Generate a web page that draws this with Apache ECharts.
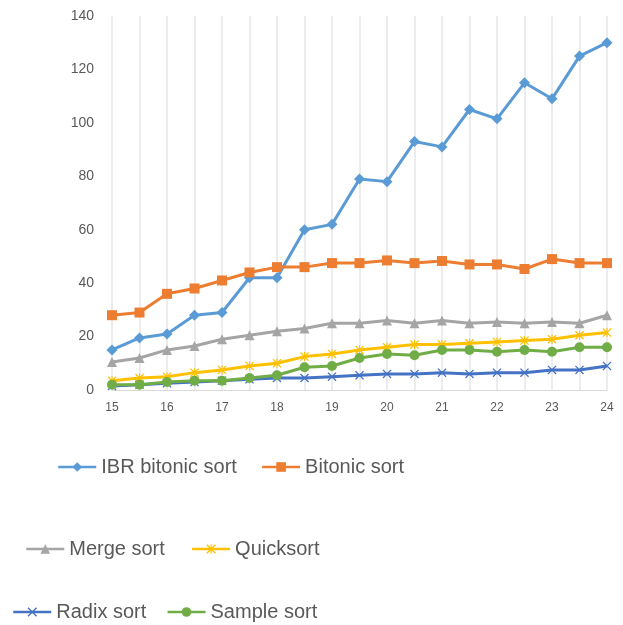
<!DOCTYPE html>
<html>
<head>
<meta charset="utf-8">
<script src="https://cdn.jsdelivr.net/npm/echarts@6/dist/echarts.min.js"></script>
<style>
  html, body { margin: 0; padding: 0; background: #fff; }
  #chart { width: 623px; height: 625px; }
</style>
</head>
<body>
<div id="chart"></div>
<script>
// x positions: 15 .. 24 in half steps
const categories = ["15", "15.5", "16", "16.5", "17", "17.5", "18", "18.5", "19", "19.5",
  "20", "20.5", "21", "21.5", "22", "22.5", "23", "23.5", "24"];

const ibrBitonic = [15, 19.5, 21, 28, 29, 42, 42, 60, 62, 79, 78, 93, 91, 105, 101.5, 115, 109, 125, 130];
const bitonic = [28, 29, 36, 38, 41, 44, 46, 46, 47.5, 47.5, 48.5, 47.5, 48.3, 47, 47, 45.3, 49, 47.5, 47.5];
const mergeSort = [10.5, 12, 15, 16.5, 19, 20.5, 22, 23, 25, 25, 26, 25, 26, 25, 25.5, 25, 25.5, 25, 28];
const quickSort = [3.5, 4.5, 5, 6.5, 7.5, 9, 10, 12.5, 13.5, 15, 16, 17, 17, 17.5, 18, 18.5, 19, 20.5, 21.5];
const radixSort = [1.5, 2, 2.5, 3, 3.5, 4, 4.5, 4.5, 5, 5.5, 6, 6, 6.5, 6, 6.5, 6.5, 7.5, 7.5, 9];
const sampleSort = [2, 2, 3, 3.5, 3.5, 4.5, 5.5, 8.5, 9, 12, 13.5, 13, 15, 15, 14.3, 15, 14.3, 16, 16];

const yTicks = [0, 20, 40, 60, 80, 100, 120, 140];

const X_PATH = "path://M0,1 L1,0 L5,4 L9,0 L10,1 L6,5 L10,9 L9,10 L5,6 L1,10 L0,9 L4,5 Z";
const STAR_PATH = "path://M0,1 L1,0 L5,4 L9,0 L10,1 L6,5 L10,9 L9,10 L5,6 L1,10 L0,9 L4,5 Z M4.4,0 L5.6,0 L5.6,10 L4.4,10 Z";

const chart = echarts.init(document.getElementById("chart"), null, { renderer: "canvas" });

function mkSeries(name, data, color, symbol, size) {
  return {
    name: name,
    type: "line",
    data: data,
    symbol: symbol,
    symbolSize: size,
    showSymbol: true,
    lineStyle: { color: color, width: 3 },
    itemStyle: { color: color },
    emphasis: { disabled: true },
    z: 3
  };
}

const legendText = { color: "#595959", fontSize: 20, fontFamily: "Liberation Sans" };

function mkLegend(names, left, top, gap) {
  return {
    data: names,
    left: left, top: top, padding: 0,
    itemWidth: 38, itemHeight: 12, itemGap: gap,
    lineStyle: { width: 2.5 },
    textStyle: legendText
  };
}

const option = {
  animation: false,
  backgroundColor: "#ffffff",
  grid: { left: 112, right: 16, top: 16, bottom: 235 },
  legend: [
    mkLegend(["IBR bitonic sort", "Bitonic sort"], 57, 457, 24),
    mkLegend(["Merge sort", "Quicksort"], 25, 539, 26),
    mkLegend(["Radix sort", "Sample sort"], 12, 602, 20)
  ],
  xAxis: {
    type: "category",
    data: categories,
    boundaryGap: false,
    axisLine: { show: true, lineStyle: { color: "#D9D9D9", width: 1 } },
    axisTick: { show: false },
    axisLabel: {
      interval: 1,
      color: "#595959",
      fontSize: 12,
      fontFamily: "Liberation Sans",
      margin: 12
    },
    splitLine: { show: true, interval: 0, lineStyle: { color: "#E6E6E6", width: 1.5 } }
  },
  yAxis: {
    type: "value",
    min: yTicks[0],
    max: yTicks[yTicks.length - 1],
    interval: 20,
    axisLine: { show: false },
    axisTick: { show: false },
    splitLine: { show: false },
    axisLabel: {
      color: "#595959",
      fontSize: 14,
      fontFamily: "Liberation Sans",
      margin: 18
    }
  },
  series: [
    mkSeries("IBR bitonic sort", ibrBitonic, "#5B9BD5", "diamond", 11),
    mkSeries("Bitonic sort", bitonic, "#ED7D31", "rect", 10),
    mkSeries("Merge sort", mergeSort, "#A5A5A5", "triangle", 10),
    mkSeries("Quicksort", quickSort, "#FFC000", STAR_PATH, 9),
    mkSeries("Radix sort", radixSort, "#4472C4", X_PATH, 9),
    mkSeries("Sample sort", sampleSort, "#70AD47", "circle", 10)
  ]
};

chart.setOption(option);
</script>
</body>
</html>
